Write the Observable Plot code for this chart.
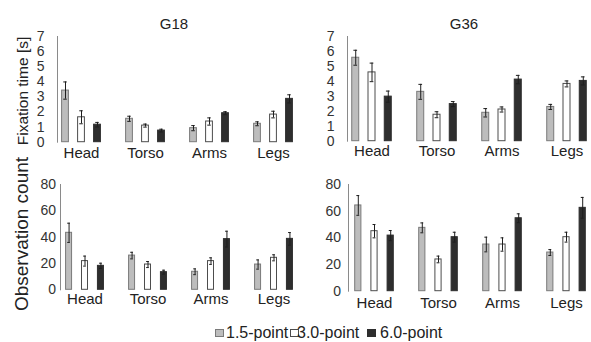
<!DOCTYPE html>
<html>
<head>
<meta charset="utf-8">
<script src="https://cdn.jsdelivr.net/npm/d3@7"></script>
<script src="https://cdn.jsdelivr.net/npm/@observablehq/plot@0.6"></script>
<style>
  html, body { margin: 0; padding: 0; background: #fff; }
  #wrap { position: relative; width: 591px; height: 342px; overflow: hidden; font-family: "Liberation Sans", Arial, sans-serif; color: #222; }
  .panel { position: absolute; }
  .title { position: absolute; font-size: 15px; transform: translateX(-50%); white-space: nowrap; line-height: 1; }
  .ytitle { position: absolute; white-space: nowrap; line-height: 1; transform: translate(-50%, -50%) rotate(-90deg); }
  .sw { position: absolute; width: 9px; height: 8px; box-sizing: border-box; }
  .lt { position: absolute; font-size: 16px; line-height: 1; white-space: nowrap; }
</style>
</head>
<body>
<div id="wrap"></div>
<script>
const parts = ["Head", "Torso", "Arms", "Legs"];
const series = ["1.5-point", "3.0-point", "6.0-point"];
const panelTitles = ["G18", "G36"];
const rowTitles = ["Fixation time [s]", "Observation count"];
const timeTicks = [0, 1, 2, 3, 4, 5, 6, 7];
const countTicks = [0, 20, 40, 60, 80];

// values in part-major order: Head(1.5,3.0,6.0), Torso(...), Arms(...), Legs(...)
const g18TimeMean  = [3.42, 1.65, 1.16, 1.55, 1.10, 0.77, 0.93, 1.37, 1.92, 1.22, 1.83, 2.87];
const g18TimeErr   = [0.57, 0.43, 0.15, 0.17, 0.10, 0.09, 0.17, 0.24, 0.10, 0.13, 0.22, 0.27];
const g36TimeMean  = [5.58, 4.60, 2.98, 3.30, 1.77, 2.48, 1.90, 2.12, 4.12, 2.29, 3.83, 4.03];
const g36TimeErr   = [0.50, 0.62, 0.37, 0.50, 0.20, 0.17, 0.28, 0.17, 0.28, 0.17, 0.20, 0.27];
const g18CountMean = [43.3, 21.8, 18.2, 26.0, 19.2, 13.4, 13.7, 21.8, 38.5, 19.2, 24.3, 38.7];
const g18CountErr  = [7.3, 3.8, 2.0, 2.5, 2.3, 1.5, 2.2, 2.5, 6.0, 3.5, 2.3, 4.8];
const g36CountMean = [64.3, 45.0, 41.7, 47.5, 23.8, 40.5, 35.0, 35.0, 54.7, 29.0, 40.5, 62.5];
const g36CountErr  = [7.4, 5.0, 3.8, 3.7, 2.5, 3.7, 5.5, 5.0, 3.3, 2.2, 3.7, 7.8];

const fills   = ["#bdbdbd", "#ffffff", "#2e2e2e"];
const strokes = ["#7a7a7a", "#4d4d4d", "#2e2e2e"];

function rowsOf(means, errs) {
  const rows = [];
  parts.forEach((p, i) => series.forEach((s, j) => {
    rows.push({part: p, series: s, mean: means[i * 3 + j], err: errs[i * 3 + j]});
  }));
  return rows;
}

function panel(o) {
  const rows = rowsOf(o.means, o.errs);
  const range = o.width - o.marginLeft - o.marginRight;
  const bw = range / (parts.length - 0.25) * 0.75;   // band width of a group
  const off = bw / 3;                                  // spacing between bars in a group
  const barW = 6.8, capW = 3.5;
  const marks = [
    Plot.frame({anchor: "left", stroke: "#8a8a8a"}),
    Plot.axisY({ticks: o.ticks, tickSize: 0, tickPadding: o.tickPadding, fontSize: 14, label: null, tickFormat: d => d, fill: "#333"}),
    Plot.axisX({tickSize: 0, tickPadding: o.xPad, fontSize: 15, label: null, fill: "#222"})
  ];
  series.forEach((s, j) => {
    const data = rows.filter(d => d.series === s);
    const dx = (j - 1) * off;
    marks.push(Plot.barY(data, {x: "part", y: "mean", dx, fill: fills[j], stroke: strokes[j], strokeWidth: 1,
      insetLeft: (bw - barW) / 2, insetRight: (bw - barW) / 2}));
    marks.push(Plot.ruleX(data, {x: "part", y1: d => d.mean - d.err, y2: d => d.mean + d.err, dx, stroke: "#1e1e1e", strokeWidth: 1}));
    marks.push(Plot.tickY(data, {x: "part", y: d => d.mean + d.err, dx, stroke: "#1e1e1e", insetLeft: (bw - capW) / 2, insetRight: (bw - capW) / 2}));
    marks.push(Plot.tickY(data, {x: "part", y: d => d.mean - d.err, dx, stroke: "#1e1e1e", insetLeft: (bw - capW) / 2, insetRight: (bw - capW) / 2}));
  });
  const svg = Plot.plot({
    width: o.width, height: o.height,
    marginLeft: o.marginLeft, marginRight: o.marginRight, marginTop: o.marginTop, marginBottom: o.marginBottom,
    style: {fontFamily: '"Liberation Sans", Arial, sans-serif', background: "transparent", overflow: "visible"},
    x: {domain: parts, paddingInner: 0.25, paddingOuter: 0, axis: null},
    y: {domain: o.domain, axis: null},
    marks
  });
  const div = document.createElement("div");
  div.className = "panel";
  div.style.left = o.left + "px";
  div.style.top = o.top + "px";
  div.appendChild(svg);
  return div;
}

const wrap = document.getElementById("wrap");

wrap.appendChild(panel({left: 0, top: 0, width: 300, height: 165, marginLeft: 57, marginRight: 3, marginTop: 36, marginBottom: 23.3,
  domain: [0, 7], ticks: timeTicks, tickPadding: 13, xPad: 5, means: g18TimeMean, errs: g18TimeErr}));
wrap.appendChild(panel({left: 290, top: 0, width: 301, height: 165, marginLeft: 57, marginRight: 0, marginTop: 36, marginBottom: 24.3,
  domain: [0, 7], ticks: timeTicks, tickPadding: 13, xPad: 4.5, means: g36TimeMean, errs: g36TimeErr}));
wrap.appendChild(panel({left: 0, top: 160, width: 300, height: 165, marginLeft: 60, marginRight: 1, marginTop: 24, marginBottom: 35.7,
  domain: [0, 80], ticks: countTicks, tickPadding: 4.5, xPad: 4, means: g18CountMean, errs: g18CountErr}));
wrap.appendChild(panel({left: 290, top: 160, width: 301, height: 165, marginLeft: 58, marginRight: 0, marginTop: 24, marginBottom: 34.3,
  domain: [0, 80], ticks: countTicks, tickPadding: 7.5, xPad: 6, means: g36CountMean, errs: g36CountErr}));

// panel titles
[[174, panelTitles[0]], [464, panelTitles[1]]].forEach(([x, t]) => {
  const d = document.createElement("div");
  d.className = "title";
  d.textContent = t;
  d.style.left = x + "px";
  d.style.top = "16px";
  wrap.appendChild(d);
});

// row titles
[[23, 91, 15.5, rowTitles[0]], [21, 233.5, 19, rowTitles[1]]].forEach(([x, y, fs, t]) => {
  const d = document.createElement("div");
  d.className = "ytitle";
  d.textContent = t;
  d.style.left = x + "px";
  d.style.top = y + "px";
  d.style.fontSize = fs + "px";
  wrap.appendChild(d);
});

// legend
const legendPos = [[215, 226], [290, 297], [367, 380]];
series.forEach((s, j) => {
  const sw = document.createElement("div");
  sw.className = "sw";
  sw.style.left = legendPos[j][0] + "px";
  sw.style.top = "329px";
  sw.style.background = fills[j];
  sw.style.border = "1px solid " + strokes[j];
  wrap.appendChild(sw);
  const t = document.createElement("div");
  t.className = "lt";
  t.textContent = s;
  t.style.left = legendPos[j][1] + "px";
  t.style.top = "325px";
  wrap.appendChild(t);
});
</script>
</body>
</html>
